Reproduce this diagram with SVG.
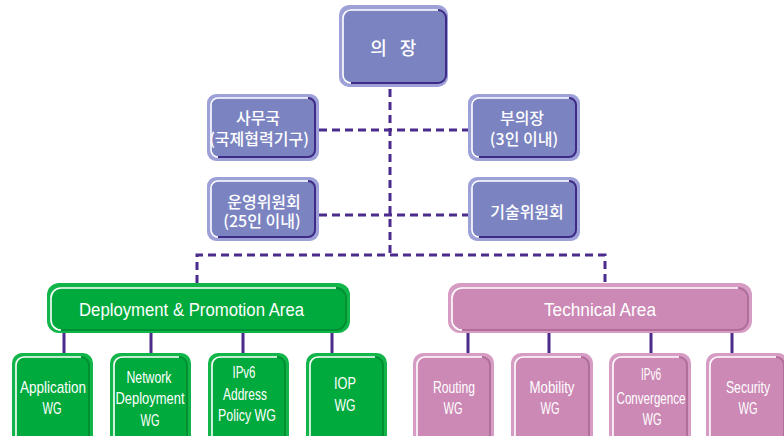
<svg xmlns="http://www.w3.org/2000/svg" width="784" height="436" viewBox="0 0 784 436">
<style>
.po{fill:#9da1d8}.pi{fill:#7b84c1}.pd{fill:none;stroke:#3f2a86;stroke-width:2}
.go{fill:#12b54a}.gi{fill:#00aa3c}.gd{fill:none;stroke:#008f31;stroke-width:2}
.ko{fill:#d69cc3}.ki{fill:#cc89b5}.kd{fill:none;stroke:#b06e9a;stroke-width:2}
.hl{fill:none;stroke:#ffffff;stroke-width:1.6}
.kr{font-family:"Noto Sans CJK KR","Noto Sans",sans-serif;fill:#fff;text-anchor:middle;font-size:16px;font-weight:500}
.en{font-family:"Liberation Sans","DejaVu Sans",sans-serif;fill:#fff;text-anchor:middle;font-size:17px}
.dash{fill:none;stroke:#4b2b8c;stroke-width:3;stroke-dasharray:8 5}
.solid{fill:none;stroke:#4b2b8c;stroke-width:3}
</style>
<rect width="784" height="436" fill="#ffffff"/>
<g id="connectors">
<path class="dash" d="M390 89V255"/>
<path class="dash" d="M319 130H468"/>
<path class="dash" d="M319 215H468"/>
<path class="dash" d="M197 283V255H605V283"/>
<path class="solid" d="M64 333V353M151 333V353M243 333V353M332 333V353"/>
<path class="solid" d="M468 333V353M549 333V353M651 333V353M732 333V353"/>
</g>
<g id="chair">
<rect class="po" x="339" y="5" width="109" height="82" rx="10"/>
<rect class="pi" x="343" y="10" width="103" height="73" rx="8"/>
<path class="hl" d="M351 83A8 8 0 0 1 343 75V18A8 8 0 0 1 351 10H438"/>
<path class="pd" d="M438 10A8 8 0 0 1 446 18V75A8 8 0 0 1 438 83H351"/>
<text class="kr" x="395.5" y="55" style="font-size:18px;letter-spacing:4.5px">의 장</text>
</g>
<g id="secretariat">
<rect class="po" x="207" y="94" width="112" height="67" rx="9"/>
<rect class="pi" x="211" y="98" width="104" height="59" rx="7"/>
<path class="hl" d="M218 157A7 7 0 0 1 211 150V105A7 7 0 0 1 218 98H308"/>
<path class="pd" d="M308 98A7 7 0 0 1 315 105V150A7 7 0 0 1 308 157H218"/>
<text class="kr" x="258" y="124">사무국</text>
<text class="kr" x="259" y="145">(국제협력기구)</text>
</g>
<g id="vice-chair">
<rect class="po" x="468" y="94" width="112" height="67" rx="9"/>
<rect class="pi" x="472" y="98" width="104" height="59" rx="7"/>
<path class="hl" d="M479 157A7 7 0 0 1 472 150V105A7 7 0 0 1 479 98H569"/>
<path class="pd" d="M569 98A7 7 0 0 1 576 105V150A7 7 0 0 1 569 157H479"/>
<text class="kr" x="522" y="124">부의장</text>
<text class="kr" x="524" y="145">(3인 이내)</text>
</g>
<g id="steering-committee">
<rect class="po" x="207" y="177" width="112" height="64" rx="9"/>
<rect class="pi" x="211" y="181" width="104" height="56" rx="7"/>
<path class="hl" d="M218 237A7 7 0 0 1 211 230V188A7 7 0 0 1 218 181H308"/>
<path class="pd" d="M308 181A7 7 0 0 1 315 188V230A7 7 0 0 1 308 237H218"/>
<text class="kr" x="264" y="208">운영위원회</text>
<text class="kr" x="262" y="227">(25인 이내)</text>
</g>
<g id="technical-committee">
<rect class="po" x="468" y="177" width="112" height="64" rx="9"/>
<rect class="pi" x="472" y="181" width="104" height="56" rx="7"/>
<path class="hl" d="M479 237A7 7 0 0 1 472 230V188A7 7 0 0 1 479 181H569"/>
<path class="pd" d="M569 181A7 7 0 0 1 576 188V230A7 7 0 0 1 569 237H479"/>
<text class="kr" x="527" y="218">기술위원회</text>
</g>
<g id="deployment-area">
<rect class="go" x="47" y="283" width="303" height="50" rx="12"/>
<rect class="gi" x="51" y="288" width="295" height="42" rx="10"/>
<path class="hl" d="M61 330A10 10 0 0 1 51 320V298A10 10 0 0 1 61 288H336"/>
<path class="gd" d="M336 288A10 10 0 0 1 346 298V320A10 10 0 0 1 336 330H61"/>
<text class="en" x="191.5" y="315.5" style="font-size:18px" textLength="225" lengthAdjust="spacingAndGlyphs">Deployment &amp; Promotion Area</text>
</g>
<g id="technical-area">
<rect class="ko" x="448" y="283" width="304" height="50" rx="12"/>
<rect class="ki" x="452" y="288" width="296" height="42" rx="10"/>
<path class="hl" d="M462 330A10 10 0 0 1 452 320V298A10 10 0 0 1 462 288H738"/>
<path class="kd" d="M738 288A10 10 0 0 1 748 298V320A10 10 0 0 1 738 330H462"/>
<text class="en" x="600" y="315.5" style="font-size:18px" textLength="112" lengthAdjust="spacingAndGlyphs">Technical Area</text>
</g>
<g id="application-wg">
<rect class="go" x="12" y="353" width="81" height="95" rx="10"/>
<rect class="gi" x="16" y="357" width="73" height="88" rx="8"/>
<path class="hl" d="M16 445V365A8 8 0 0 1 24 357H81"/>
<path class="gd" d="M81 357A8 8 0 0 1 89 365V445"/>
<text class="en" x="53" y="393" textLength="66" lengthAdjust="spacingAndGlyphs">Application</text>
<text class="en" x="52" y="414" textLength="19" lengthAdjust="spacingAndGlyphs">WG</text>
</g>
<g id="network-deployment-wg">
<rect class="go" x="110" y="353" width="81" height="95" rx="10"/>
<rect class="gi" x="114" y="357" width="73" height="88" rx="8"/>
<path class="hl" d="M114 445V365A8 8 0 0 1 122 357H179"/>
<path class="gd" d="M179 357A8 8 0 0 1 187 365V445"/>
<text class="en" x="149" y="383" textLength="45" lengthAdjust="spacingAndGlyphs">Network</text>
<text class="en" x="150" y="404" textLength="69" lengthAdjust="spacingAndGlyphs">Deployment</text>
<text class="en" x="150" y="426" textLength="19" lengthAdjust="spacingAndGlyphs">WG</text>
</g>
<g id="ipv6-address-policy-wg">
<rect class="go" x="208" y="353" width="81" height="95" rx="10"/>
<rect class="gi" x="212" y="357" width="73" height="88" rx="8"/>
<path class="hl" d="M212 445V365A8 8 0 0 1 220 357H277"/>
<path class="gd" d="M277 357A8 8 0 0 1 285 365V445"/>
<text class="en" x="244" y="378" textLength="23" lengthAdjust="spacingAndGlyphs">IPv6</text>
<text class="en" x="245" y="400" textLength="44" lengthAdjust="spacingAndGlyphs">Address</text>
<text class="en" x="247" y="421" textLength="58" lengthAdjust="spacingAndGlyphs">Policy WG</text>
</g>
<g id="iop-wg">
<rect class="go" x="306" y="353" width="81" height="95" rx="10"/>
<rect class="gi" x="310" y="357" width="73" height="88" rx="8"/>
<path class="hl" d="M310 445V365A8 8 0 0 1 318 357H375"/>
<path class="gd" d="M375 357A8 8 0 0 1 383 365V445"/>
<text class="en" x="345" y="389" textLength="22" lengthAdjust="spacingAndGlyphs">IOP</text>
<text class="en" x="345" y="411" textLength="21" lengthAdjust="spacingAndGlyphs">WG</text>
</g>
<g id="routing-wg">
<rect class="ko" x="413" y="353" width="81" height="95" rx="10"/>
<rect class="ki" x="417" y="357" width="73" height="88" rx="8"/>
<path class="hl" d="M417 445V365A8 8 0 0 1 425 357H482"/>
<path class="kd" d="M482 357A8 8 0 0 1 490 365V445"/>
<text class="en" x="454" y="393" textLength="42" lengthAdjust="spacingAndGlyphs">Routing</text>
<text class="en" x="453" y="414" textLength="19" lengthAdjust="spacingAndGlyphs">WG</text>
</g>
<g id="mobility-wg">
<rect class="ko" x="511" y="353" width="82" height="95" rx="10"/>
<rect class="ki" x="515" y="357" width="74" height="88" rx="8"/>
<path class="hl" d="M515 445V365A8 8 0 0 1 523 357H581"/>
<path class="kd" d="M581 357A8 8 0 0 1 589 365V445"/>
<text class="en" x="552" y="393" textLength="45" lengthAdjust="spacingAndGlyphs">Mobility</text>
<text class="en" x="550" y="414" textLength="19" lengthAdjust="spacingAndGlyphs">WG</text>
</g>
<g id="ipv6-convergence-wg">
<rect class="ko" x="609" y="353" width="82" height="95" rx="10"/>
<rect class="ki" x="613" y="357" width="74" height="88" rx="8"/>
<path class="hl" d="M613 445V365A8 8 0 0 1 621 357H679"/>
<path class="kd" d="M679 357A8 8 0 0 1 687 365V445"/>
<text class="en" x="651" y="380" textLength="20" lengthAdjust="spacingAndGlyphs">IPv6</text>
<text class="en" x="651" y="404" textLength="69" lengthAdjust="spacingAndGlyphs">Convergence</text>
<text class="en" x="652" y="425" textLength="19" lengthAdjust="spacingAndGlyphs">WG</text>
</g>
<g id="security-wg">
<rect class="ko" x="706" y="353" width="82" height="95" rx="10"/>
<rect class="ki" x="710" y="357" width="74" height="88" rx="8"/>
<path class="hl" d="M710 445V365A8 8 0 0 1 718 357H776"/>
<path class="kd" d="M776 357A8 8 0 0 1 784 365V445"/>
<text class="en" x="748" y="393" textLength="44" lengthAdjust="spacingAndGlyphs">Security</text>
<text class="en" x="748" y="414" textLength="19" lengthAdjust="spacingAndGlyphs">WG</text>
</g>
</svg>
